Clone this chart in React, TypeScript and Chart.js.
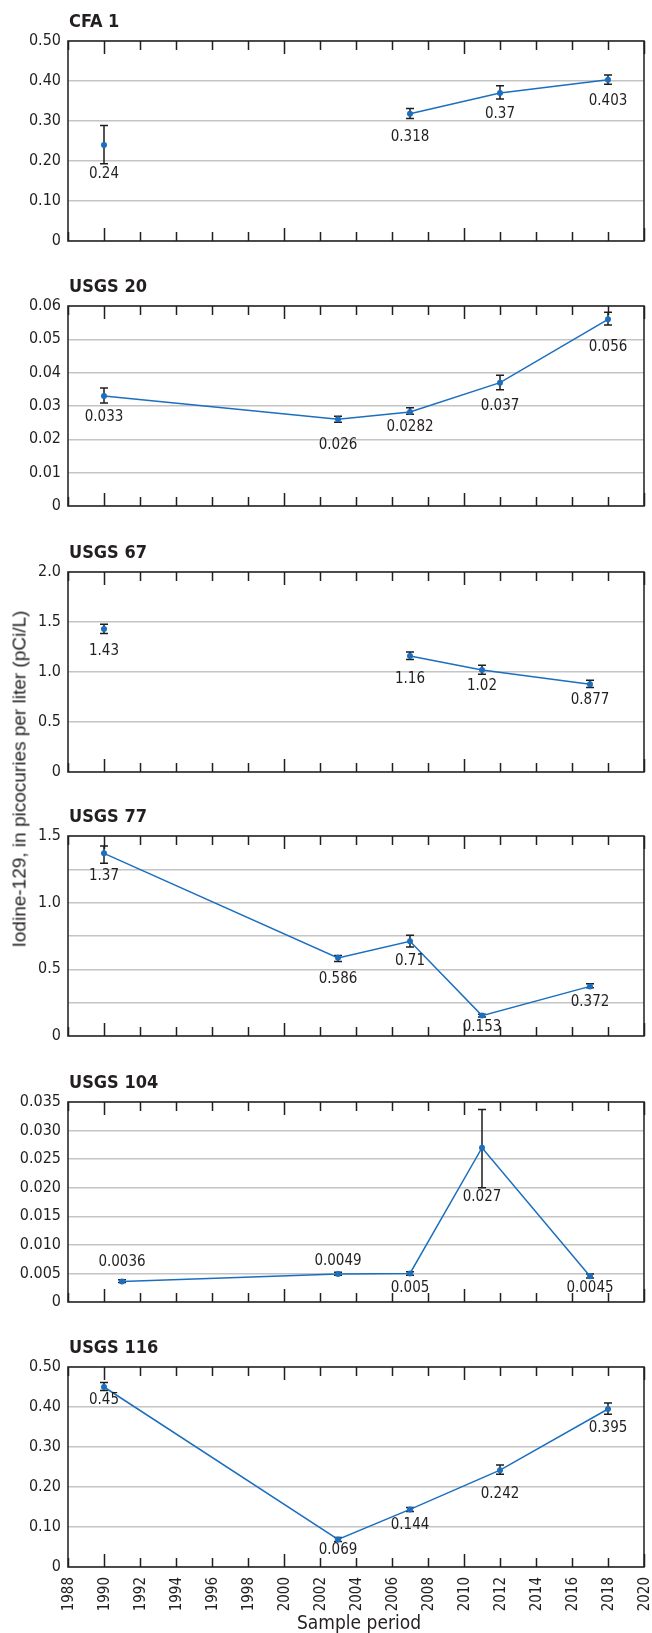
import React, { useEffect, useRef } from 'react';
import { Chart, registerables } from 'chart.js';

Chart.register(...registerables);

// ---------- DATA ----------
const X_TICKS = [1988, 1990, 1992, 1994, 1996, 1998, 2000, 2002, 2004, 2006, 2008, 2010, 2012, 2014, 2016, 2018, 2020];
const X_TITLE = 'Sample period';
const Y_TITLE = 'Iodine-129, in picocuries per liter (pCi/L)';

const PANEL_TITLES = ['CFA 1', 'USGS 20', 'USGS 67', 'USGS 77', 'USGS 104', 'USGS 116'];

const cfa1Years = [1990, 2007, 2012, 2018];
const cfa1Values = [0.24, 0.318, 0.37, 0.403];
const cfa1Low = [0.193, 0.306, 0.355, 0.392];
const cfa1High = [0.289, 0.331, 0.388, 0.415];
const cfa1YTicks = [0, 0.1, 0.2, 0.3, 0.4, 0.5];
const cfa1YTickLabels = ['0', '0.10', '0.20', '0.30', '0.40', '0.50'];

const usgs20Years = [1990, 2003, 2007, 2012, 2018];
const usgs20Values = [0.033, 0.026, 0.0282, 0.037, 0.056];
const usgs20Low = [0.0309, 0.0251, 0.0275, 0.0349, 0.0543];
const usgs20High = [0.0354, 0.0269, 0.0295, 0.0392, 0.0581];
const usgs20YTicks = [0, 0.01, 0.02, 0.03, 0.04, 0.05, 0.06];
const usgs20YTickLabels = ['0', '0.01', '0.02', '0.03', '0.04', '0.05', '0.06'];

const usgs67Years = [1990, 2007, 2011, 2017];
const usgs67Values = [1.43, 1.16, 1.02, 0.877];
const usgs67Low = [1.384, 1.124, 0.977, 0.844];
const usgs67High = [1.477, 1.2, 1.067, 0.917];
const usgs67YTicks = [0, 0.5, 1.0, 1.5, 2.0];
const usgs67YTickLabels = ['0', '0.5', '1.0', '1.5', '2.0'];

const usgs77Years = [1990, 2003, 2007, 2011, 2017];
const usgs77Values = [1.37, 0.586, 0.71, 0.153, 0.372];
const usgs77Low = [1.296, 0.558, 0.668, 0.142, 0.362];
const usgs77High = [1.425, 0.603, 0.755, 0.164, 0.392];
const usgs77YTicks = [0, 0.25, 0.5, 0.75, 1.0, 1.25, 1.5];
const usgs77YTickLabels = ['0', '', '0.5', '', '1.0', '', '1.5'];

const usgs104Years = [1991, 2003, 2007, 2011, 2017];
const usgs104Values = [0.0036, 0.0049, 0.005, 0.027, 0.0045];
const usgs104Low = [0.0034, 0.0047, 0.0047, 0.02, 0.0042];
const usgs104High = [0.0039, 0.0052, 0.0053, 0.0337, 0.0049];
const usgs104YTicks = [0, 0.005, 0.01, 0.015, 0.02, 0.025, 0.03, 0.035];
const usgs104YTickLabels = ['0', '0.005', '0.010', '0.015', '0.020', '0.025', '0.030', '0.035'];

const usgs116Years = [1990, 2003, 2007, 2012, 2018];
const usgs116Values = [0.45, 0.069, 0.144, 0.242, 0.395];
const usgs116Low = [0.441, 0.064, 0.139, 0.232, 0.382];
const usgs116High = [0.461, 0.074, 0.149, 0.255, 0.41];
const usgs116YTicks = [0, 0.1, 0.2, 0.3, 0.4, 0.5];
const usgs116YTickLabels = ['0', '0.10', '0.20', '0.30', '0.40', '0.50'];

// ---------- STYLE / LAYOUT ----------
const LINE_COLOR = '#1b6fbe';
const TEXT_COLOR = '#231f20';
const NARROW = "'Liberation Sans Narrow', 'DejaVu Sans Condensed', sans-serif";
const WIDE = "'Liberation Sans', Arial, sans-serif";
const PLOT_TOPS = [41, 306, 572, 836, 1102, 1367];
const PLOT_HEIGHT = 200;
const TOP_PAD = 41;
const RIGHT_PAD = 8;
const AXIS_WIDTH = 68;
const PAGE_H = 1633;
// vertical offsets (px) of value labels from their points (positive = below)
const LABEL_DY = [
  [29, 23, 21, 21],
  [21, 26, 15, 23, 28],
  [22, 23, 16, 16],
  [23, 21, 20, 12, 16],
  [-19, -13, 15, 49, 12],
  [13, 11, 16, 24, 19],
];
// whether the first point is joined to the second
const JOIN_FIRST = [false, true, false, true, true, true];

const PANELS = [
  { years: cfa1Years, values: cfa1Values, low: cfa1Low, high: cfa1High, yTicks: cfa1YTicks, yLabels: cfa1YTickLabels },
  { years: usgs20Years, values: usgs20Values, low: usgs20Low, high: usgs20High, yTicks: usgs20YTicks, yLabels: usgs20YTickLabels },
  { years: usgs67Years, values: usgs67Values, low: usgs67Low, high: usgs67High, yTicks: usgs67YTicks, yLabels: usgs67YTickLabels },
  { years: usgs77Years, values: usgs77Values, low: usgs77Low, high: usgs77High, yTicks: usgs77YTicks, yLabels: usgs77YTickLabels },
  { years: usgs104Years, values: usgs104Values, low: usgs104Low, high: usgs104High, yTicks: usgs104YTicks, yLabels: usgs104YTickLabels },
  { years: usgs116Years, values: usgs116Values, low: usgs116Low, high: usgs116High, yTicks: usgs116YTicks, yLabels: usgs116YTickLabels },
];

function Panel({ index }: { index: number }) {
  const ref = useRef<HTMLCanvasElement | null>(null);
  const isLast = index === PANELS.length - 1;
  const top = PLOT_TOPS[index] - TOP_PAD;
  const height = isLast ? PAGE_H - top : TOP_PAD + PLOT_HEIGHT + 20;
  const bottomPad = isLast ? 0 : height - TOP_PAD - PLOT_HEIGHT;
  const xAxisHeight = isLast ? height - TOP_PAD - PLOT_HEIGHT : 0;

  useEffect(() => {
    const p = PANELS[index];
    const dys = LABEL_DY[index];
    const joinFirst = JOIN_FIRST[index];
    const yMax = p.yTicks[p.yTicks.length - 1];

    const decor = {
      id: 'decor' + index,
      beforeDatasetsDraw(chart: any) {
        const { ctx, chartArea: a } = chart;
        const xs = chart.scales.x;
        const ys = chart.scales.y;
        ctx.save();
        // frame
        ctx.strokeStyle = '#2b2b2b';
        ctx.lineWidth = 1.6;
        ctx.strokeRect(a.left, a.top, a.right - a.left, a.bottom - a.top);
        // inward ticks
        ctx.strokeStyle = '#231f20';
        ctx.lineWidth = 1.5;
        X_TICKS.forEach((yr) => {
          const x = Math.round(xs.getPixelForValue(yr)) + 0.5;
          const len = yr % 10 === 0 ? 13 : 9;
          ctx.beginPath();
          ctx.moveTo(x, a.top);
          ctx.lineTo(x, a.top + len);
          ctx.moveTo(x, a.bottom);
          ctx.lineTo(x, a.bottom - len);
          ctx.stroke();
        });
        // error bars
        ctx.strokeStyle = '#1e1e1e';
        ctx.lineWidth = 1.5;
        p.years.forEach((yr, i) => {
          const x = xs.getPixelForValue(yr);
          const y1 = ys.getPixelForValue(p.low[i]);
          const y2 = ys.getPixelForValue(p.high[i]);
          ctx.beginPath();
          ctx.moveTo(x, y1);
          ctx.lineTo(x, y2);
          ctx.moveTo(x - 4, y1);
          ctx.lineTo(x + 4, y1);
          ctx.moveTo(x - 4, y2);
          ctx.lineTo(x + 4, y2);
          ctx.stroke();
        });
        ctx.restore();
      },
      afterDatasetsDraw(chart: any) {
        const { ctx, chartArea: a } = chart;
        const xs = chart.scales.x;
        const ys = chart.scales.y;
        ctx.save();
        ctx.fillStyle = TEXT_COLOR;
        ctx.font = `15px ${NARROW}`;
        ctx.textAlign = 'center';
        ctx.textBaseline = 'middle';
        p.years.forEach((yr, i) => {
          const x = xs.getPixelForValue(yr);
          const y = ys.getPixelForValue(p.values[i]);
          ctx.fillText(String(p.values[i]), x, y + dys[i]);
        });
        // panel title
        ctx.font = `bold 18px ${NARROW}`;
        ctx.textAlign = 'left';
        ctx.textBaseline = 'alphabetic';
        ctx.fillText(PANEL_TITLES[index], a.left + 1, a.top - 14);
        if (isLast) {
          // rotated year labels, reading upward, ending just below the axis
          ctx.font = `15px ${NARROW}`;
          X_TICKS.forEach((yr) => {
            const x = xs.getPixelForValue(yr);
            ctx.save();
            ctx.translate(x + 1, a.bottom + 10);
            ctx.rotate(-Math.PI / 2);
            ctx.textAlign = 'right';
            ctx.textBaseline = 'middle';
            ctx.fillText(String(yr), 0, 0);
            ctx.restore();
          });
          ctx.font = `19px ${NARROW}`;
          ctx.textAlign = 'center';
          ctx.textBaseline = 'alphabetic';
          ctx.fillText(X_TITLE, (a.left + a.right) / 2 + 3, a.bottom + 62);
        }
        ctx.restore();
      },
    };

    const chart = new Chart(ref.current as HTMLCanvasElement, {
      type: 'line',
      data: {
        datasets: [
          {
            data: p.years.map((yr, i) => ({ x: yr, y: p.values[i] })),
            borderColor: LINE_COLOR,
            backgroundColor: LINE_COLOR,
            borderWidth: 1.5,
            pointRadius: 3,
            pointBorderWidth: 0,
            pointBackgroundColor: LINE_COLOR,
            fill: false,
            tension: 0,
            segment: {
              borderColor: (c: any) => (!joinFirst && c.p0DataIndex === 0 ? 'rgba(0,0,0,0)' : LINE_COLOR),
            },
          },
        ],
      },
      options: {
        responsive: false,
        animation: false,
        devicePixelRatio: 1,
        layout: { padding: { top: TOP_PAD, left: 0, right: RIGHT_PAD, bottom: bottomPad } },
        plugins: { legend: { display: false }, title: { display: false }, tooltip: { enabled: false } },
        scales: {
          x: {
            type: 'linear',
            min: 1988,
            max: 2020,
            afterBuildTicks: (s: any) => {
              s.ticks = X_TICKS.map((v) => ({ value: v }));
            },
            afterFit: (s: any) => {
              s.height = xAxisHeight;
              s.paddingLeft = 0;
              s.paddingRight = 0;
            },
            ticks: { display: false, autoSkip: false },
            grid: { display: false, drawTicks: false },
            border: { display: false },
            title: { display: false },
          },
          y: {
            type: 'linear',
            min: 0,
            max: yMax,
            afterBuildTicks: (s: any) => {
              s.ticks = p.yTicks.map((v) => ({ value: v }));
            },
            afterFit: (s: any) => {
              s.width = AXIS_WIDTH;
            },
            ticks: {
              autoSkip: false,
              padding: 7,
              color: TEXT_COLOR,
              font: { family: NARROW, size: 16 },
              callback: (v: any) => {
                const k = p.yTicks.findIndex((t) => Math.abs(t - v) < 1e-9);
                return k >= 0 ? p.yLabels[k] : '';
              },
            },
            grid: { color: '#c4c4c4', lineWidth: 1.5, drawTicks: false },
            border: { display: false },
          },
        },
      },
      plugins: [decor],
    } as any);
    return () => chart.destroy();
  }, [index]);

  return (
    <canvas
      ref={ref}
      width={652}
      height={height}
      style={{ position: 'absolute', left: 0, top, width: 652, height }}
    />
  );
}

export default function App() {
  return (
    <div style={{ position: 'absolute', left: 0, top: 0, width: 652, height: PAGE_H, background: '#fff', overflow: 'hidden' }}>
      {PANELS.map((_, i) => (
        <Panel key={i} index={i} />
      ))}
      <div
        style={{
          position: 'absolute',
          left: 19,
          top: 779,
          transform: 'translate(-50%, -50%) rotate(-90deg)',
          fontFamily: WIDE,
          fontSize: 19,
          color: TEXT_COLOR,
          whiteSpace: 'nowrap',
          lineHeight: 1,
        }}
      >
        {Y_TITLE}
      </div>
    </div>
  );
}
